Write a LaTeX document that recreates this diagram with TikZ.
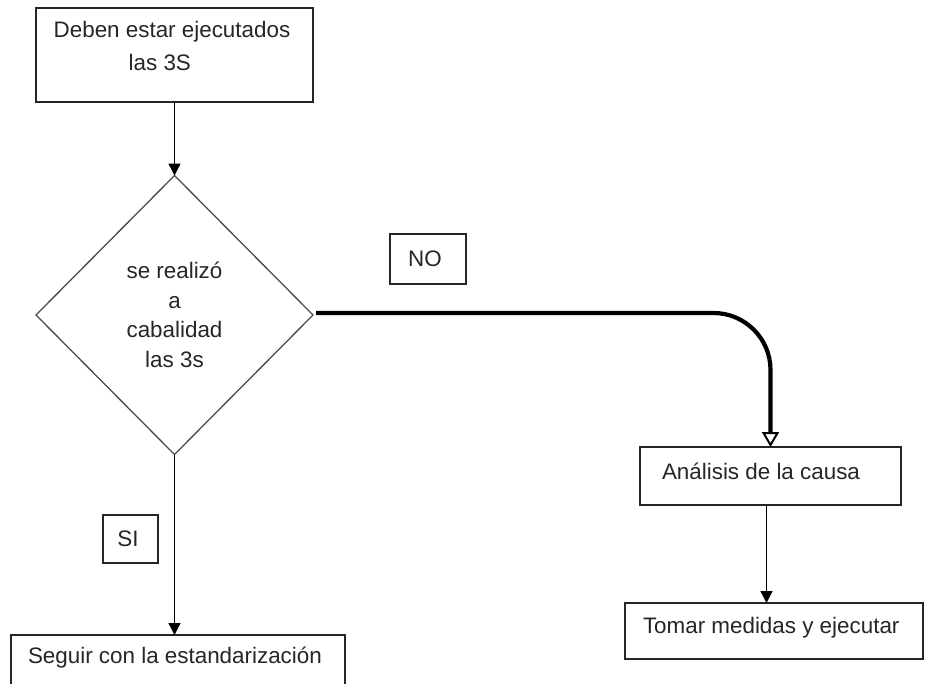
\documentclass[tikz,border=0pt]{standalone}
\usepackage{fontspec}
\setmainfont{Liberation Sans}
\usetikzlibrary{shapes.geometric,arrows.meta}

\tikzset{
  box/.style={draw=black!85, line width=1.3pt, rectangle, inner sep=0pt, outer sep=0pt},
  txt/.style={inner sep=0pt, outer sep=0pt, font=\fontsize{22.4}{33}\selectfont, text=black!85},
  decision/.style={draw=black!70, line width=1.3pt, diamond, inner sep=0pt, outer sep=0pt,
    minimum width=277pt, minimum height=279pt, align=center,
    font=\fontsize{22.4}{29.5}\selectfont, text=black!85},
  arr/.style={line width=1.4pt, -{Triangle[length=12pt,width=12pt]}},
  heavyarr/.style={line width=4.2pt, rounded corners=57pt,
    -{Triangle[open,length=15pt,width=17pt,line width=2pt]}}
}

\begin{document}
\begin{tikzpicture}[x=1pt,y=-1pt]
  \useasboundingbox (0,0) rectangle (926,683);
  \clip (0,0) rectangle (926,683);
  \fill[white] (0,0) rectangle (926,683);

  % start box
  \node[box, minimum width=277pt, minimum height=94pt] (start) at (174.5,55) {};
  \node[txt, align=left] (starttext) at (172,46) {Deben estar ejecutados\\\hspace*{75pt}las 3S};

  % decision
  \node[decision] (dec) at (174.5,315) {se realizó\\a\\cabalidad\\las 3s};

  % branch labels
  \node[box, minimum width=76pt, minimum height=50pt] (no) at (428,259) {};
  \node[txt] (notext) at (425,259) {NO};
  \node[box, minimum width=55pt, minimum height=48pt] (si) at (130.5,539) {};
  \node[txt] (sitext) at (128,539) {SI};

  % right branch
  \node[box, minimum width=261pt, minimum height=58pt] (cause) at (770.5,476) {};
  \node[txt, anchor=west] (causetext) at (662,471) {Análisis de la causa};
  \node[box, minimum width=298pt, minimum height=56pt] (act) at (774,631) {};
  \node[txt, anchor=west] (acttext) at (643,628) {Tomar medidas y ejecutar};

  % left branch
  \node[box, minimum width=334pt, minimum height=80pt] (std) at (178,675) {};
  \node[txt, anchor=west] (stdtext) at (28,658) {Seguir con la estandarización};

  % connectors
  \draw[arr] (start.south) -- (dec.north);
  \draw[arr] (dec.south) -- (dec.south |- std.north);
  \draw[heavyarr] ([xshift=3pt,yshift=2pt]dec.east) -| (cause.north);
  \draw[arr] ([xshift=-4pt]cause.south) -- ([xshift=-4pt]cause.south |- act.north);
\end{tikzpicture}
\end{document}
